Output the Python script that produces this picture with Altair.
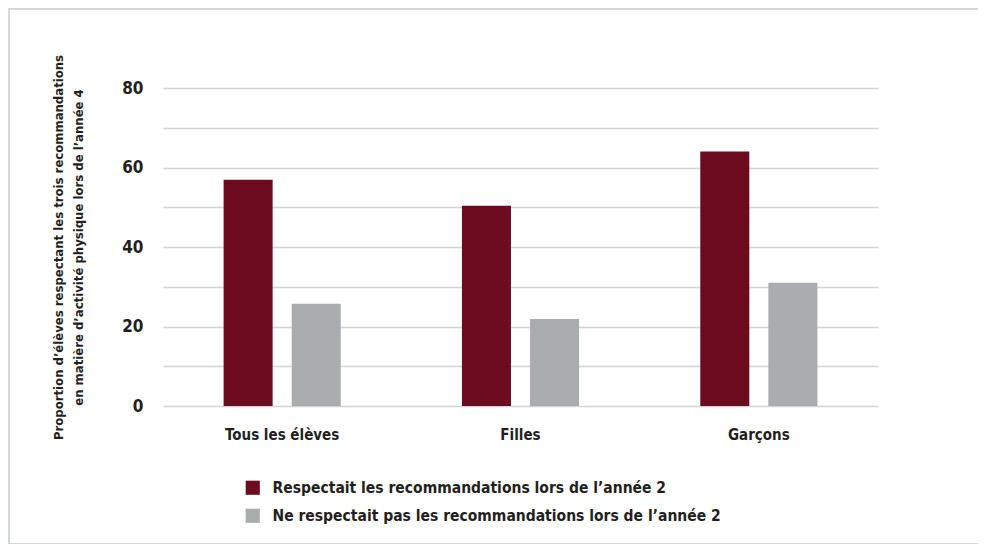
import altair as alt
import pandas as pd

groups = ["Tous les élèves", "Filles", "Garçons"]
series = ["Respectait les recommandations lors de l’année 2",
          "Ne respectait pas les recommandations lors de l’année 2"]
respectait = [56.9, 50.4, 64.0]
ne_respectait = [25.7, 21.9, 31.0]
colors = ["#6d0b20", "#a9adad"]
y_title = ["Proportion d’élèves respectant les trois recommandations",
           "en matière d’activité physique lors de l’année 4"]

rows = []
for g, a, b in zip(groups, respectait, ne_respectait):
    rows.append({"groupe": g, "serie": series[0], "valeur": a})
    rows.append({"groupe": g, "serie": series[1], "valeur": b})
df = pd.DataFrame(rows)

FONT = "Liberation Sans Narrow, DejaVu Sans Condensed, sans-serif"
TXT = "#231f20"

bars = alt.Chart(df).mark_bar().encode(
    x=alt.X("groupe:N", sort=groups,
            scale=alt.Scale(paddingInner=0, paddingOuter=0),
            axis=alt.Axis(title=None, labelAngle=0, ticks=False, domain=False,
                          labelPadding=21, labelFontSize=15, labelFont=FONT,
                          labelFontWeight="bold", labelColor=TXT)),
    xOffset=alt.XOffset("serie:N", sort=series,
                        scale=alt.Scale(paddingInner=0.28, paddingOuter=0.89)),
    y=alt.Y("valeur:Q",
            scale=alt.Scale(domain=[0, 80], nice=False),
            axis=alt.Axis(title=y_title, values=list(range(0, 81, 10)),
                          labelExpr="datum.value % 20 == 0 ? datum.label : ''",
                          ticks=False, domain=False, labelPadding=20,
                          labelFontSize=17, labelFont=FONT, labelFontWeight="bold",
                          labelColor=TXT, gridColor="#d4d4d4", gridWidth=1.5,
                          titleFont=FONT, titleFontSize=13, titleFontWeight="bold",
                          titleColor=TXT, titlePadding=36, titleLineHeight=20)),
    color=alt.Color("serie:N", sort=series,
                    scale=alt.Scale(domain=series, range=colors),
                    legend=alt.Legend(title=None, orient="none", legendX=82, legendY=392,
                                      symbolType="square", symbolSize=200,
                                      symbolStrokeWidth=0, labelFont=FONT,
                                      labelFontSize=15.5, labelFontWeight="bold",
                                      labelColor=TXT, rowPadding=11, labelOffset=12,
                                      labelLimit=600)),
)

frame = alt.Chart(pd.DataFrame({"a": [0]})).mark_rect(
    fill="transparent", stroke="#c9cdcd", strokeWidth=1.5
).encode(x=alt.value(-154), x2=alt.value(816), y=alt.value(-79), y2=alt.value(456))

chart = alt.layer(frame, bars).properties(
    width=715, height=318,
    autosize=alt.AutoSizeParams(type="none"),
    padding={"left": 155, "top": 80, "right": 100, "bottom": 138},
    background="white",
).configure_view(stroke=None)

chart.save("out.html", embed_options={"renderer": "svg", "actions": False})
